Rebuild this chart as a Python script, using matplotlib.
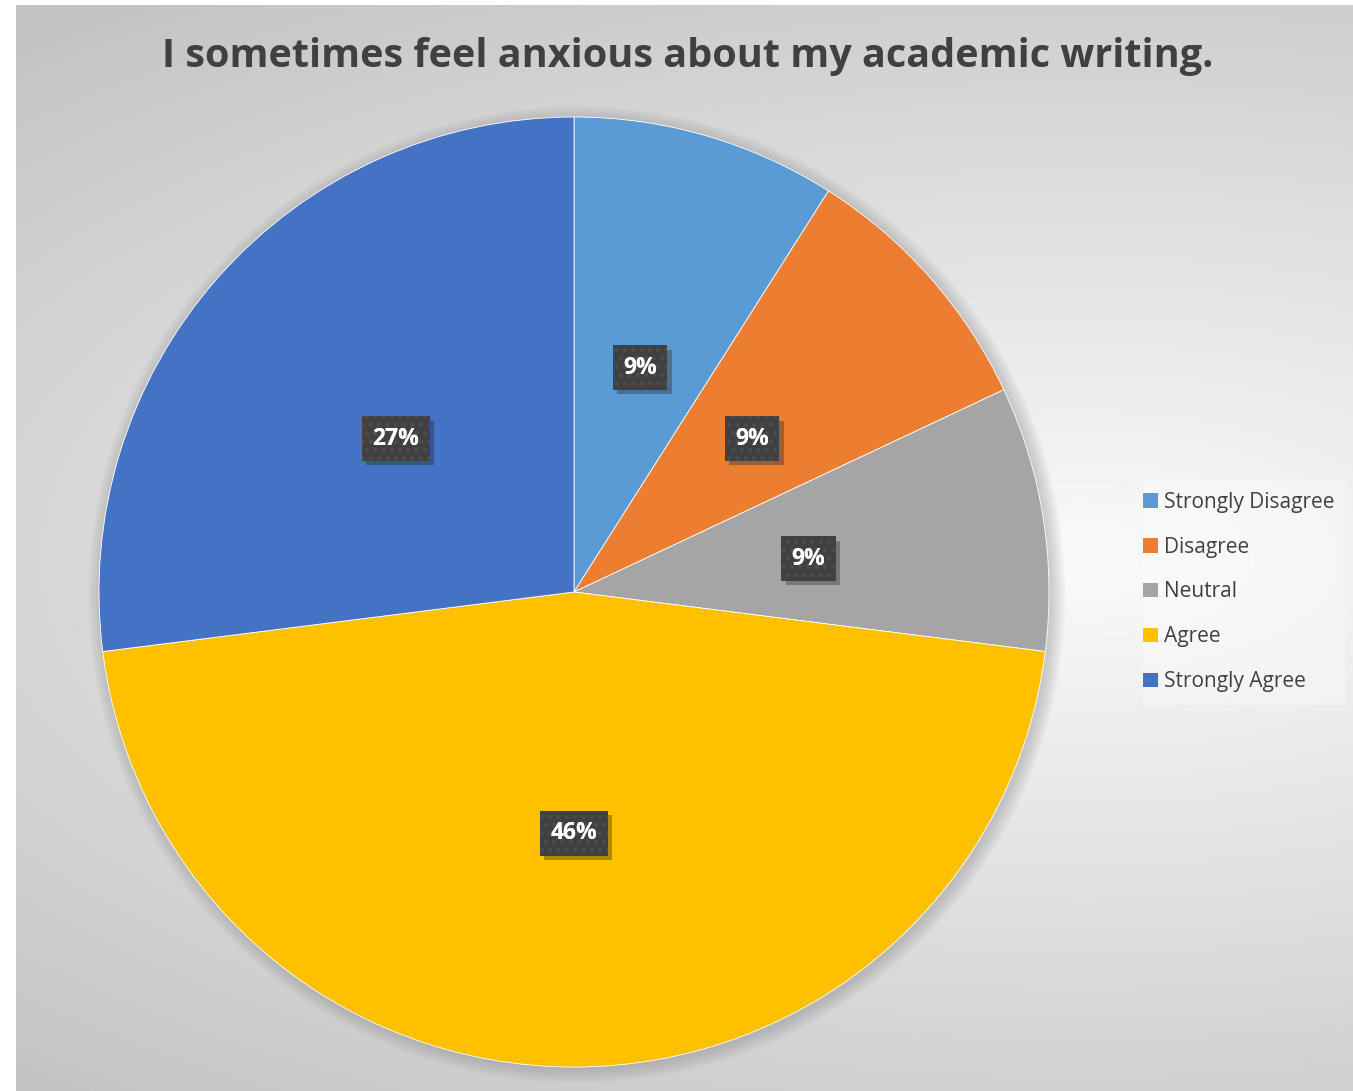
import numpy as np
import matplotlib
matplotlib.use("Agg")
import matplotlib.pyplot as plt
from matplotlib.patches import Patch, Circle, Rectangle
import matplotlib.patheffects as pe

# Data
labels = ["Strongly Disagree", "Disagree", "Neutral", "Agree", "Strongly Agree"]
values = [9, 9, 9, 46, 27]
colours = ["#5B9BD5", "#ED7D31", "#A5A5A5", "#FFC000", "#4472C4"]
title = "I sometimes feel anxious about my academic writing."

W, H = 1353, 1091
plt.rcParams["font.family"] = ["Open Sans", "DejaVu Sans"]
plt.rcParams["hatch.linewidth"] = 2.0
fig = plt.figure(figsize=(W / 100, H / 100), dpi=100)
fig.patch.set_facecolor("white")

# Background gradient (chart area)
bg = fig.add_axes([16 / W, 0, 1 - 16 / W, (H - 5) / H])
yy, xx = np.mgrid[5:H, 16:W]
r = np.sqrt(((xx - 1080) / 1600.0) ** 2 + ((yy - 560) / 700.0) ** 2)
grey = np.clip(250 - 55 * r, 195, 250) / 255.0
bg.imshow(grey, cmap="gray", vmin=0, vmax=1, aspect="auto", interpolation="bilinear")
bg.axis("off")

# Pie
cx, cy, rad = 574, 592, 475
ax = fig.add_axes([(cx - rad) / W, (H - cy - rad) / H, 2 * rad / W, 2 * rad / H])

wedges, texts, autotexts = ax.pie(
    values, colors=colours, startangle=90, counterclock=False, radius=1,
    autopct=lambda p: f"{p:.0f}%", pctdistance=0.5,
    wedgeprops=dict(linewidth=0.6, edgecolor="white"),
    textprops=dict(color="white", fontsize=16.5, fontweight="bold"))
ax.set_xlim(-1, 1)
ax.set_ylim(-1, 1)
ax.axis("off")
for w in wedges:
    w.set_zorder(1)

# soft shadow round the pie
for k in range(8):
    ax.add_patch(Circle((0.006, -0.006), 1.0 + 0.004 * k, color="#808080",
                        alpha=0.05, lw=0, zorder=0, clip_on=False))

# dark label boxes with shadow, then a dotted overlay
for t in autotexts:
    x, y = t.get_position()
    y = y - 0.008
    t.set_position((x, y))
    t.set_zorder(5)
    t.set_bbox(dict(boxstyle="square,pad=0.45", facecolor="#404040",
                    edgecolor="none", linewidth=0))
    t.get_bbox_patch().set_path_effects([
        pe.SimplePatchShadow(offset=(3, -3), shadow_rgbFace="#202020", alpha=0.35),
        pe.Normal()])
    ax.text(x, y, t.get_text(), ha="center", va="center", color="white",
            fontsize=16.5, fontweight="bold", zorder=6,
            bbox=dict(boxstyle="square,pad=0.45", facecolor="none",
                      edgecolor="#4c4c4c", hatch="..", linewidth=0))

# Title
fig.text(688 / W, 1 - 57 / H, title, ha="center", va="center",
         fontsize=28.5, fontweight="bold", color="#404040")

# Legend background box
fig.patches.append(Rectangle((1143 / W, 1 - 705 / H), 202 / W, 225 / H,
                             transform=fig.transFigure, facecolor="white",
                             alpha=0.35, edgecolor="none", zorder=1))

# Legend
handles = [Patch(facecolor=c, edgecolor="none") for c in colours]
leg = fig.legend(handles, labels, loc="center left",
                 bbox_to_anchor=(1135 / W, 1 - 592 / H),
                 fontsize=15, frameon=False, handlelength=0.7, handleheight=0.7,
                 handletextpad=0.3, labelspacing=1.15, borderpad=0.4,
                 borderaxespad=0, labelcolor="#404040")

fig.savefig("out.png", dpi=100)
